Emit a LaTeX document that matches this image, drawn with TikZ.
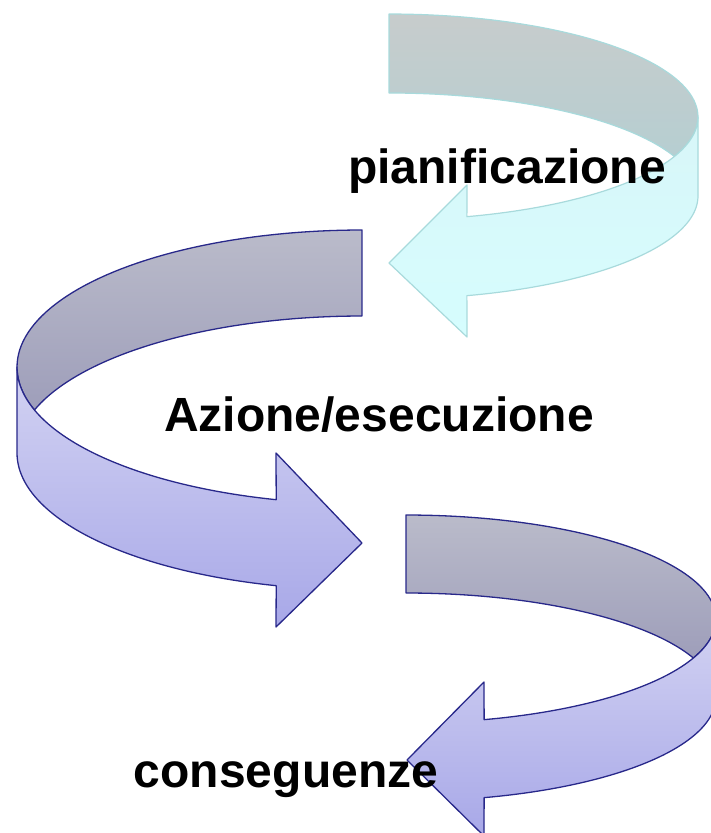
\documentclass[tikz,border=0pt]{standalone}
\usepackage{fontspec}
\setmainfont{Liberation Sans}
\definecolor{cline}{RGB}{168,218,220}
\definecolor{bline}{RGB}{40,40,138}
\definecolor{cbacktop}{RGB}{199,204,204}
\definecolor{cbackbot}{RGB}{182,206,209}
\definecolor{cfronttop}{RGB}{216,246,248}
\definecolor{cfrontbot}{RGB}{214,253,254}
\definecolor{bbacktop}{RGB}{186,187,202}
\definecolor{bbackbot}{RGB}{158,158,186}
\definecolor{bfronttop}{RGB}{210,210,242}
\definecolor{bfrontbot}{RGB}{168,168,232}
\begin{document}
\begin{tikzpicture}[x=1pt,y=-1pt,
  lbl/.style={font=\fontsize{48}{48}\selectfont\bfseries, anchor=base, inner sep=0pt},
  cyanline/.style={draw=cline, line width=1.2pt, line join=round},
  blueline/.style={draw=bline, line width=1.3pt, line join=round},
  cyanback/.style={cyanline, top color=cbacktop, bottom color=cbackbot},
  cyanfront/.style={cyanline, top color=cfronttop, bottom color=cfrontbot},
  blueback/.style={blueline, top color=bbacktop, bottom color=bbackbot},
  bluefront/.style={blueline, top color=bfronttop, bottom color=bfrontbot}]
\useasboundingbox (0,0) rectangle (711,833);
\clip (0,0) rectangle (711,833);
% top arrow
\path[cyanback] plot[domain=270:360, samples=50] ({389+309*cos(\x)}, {117+103*sin(\x)})
  -- plot[domain=0:22.5, samples=12] ({389+309*cos(\x)}, {117+103*sin(\x)})
  -- plot[domain=337.5:270, samples=50] ({389+309*cos(\x)}, {196+103*sin(\x)}) -- cycle;
\path[cyanfront] plot[domain=0:75.4, samples=50] ({389+309*cos(\x)}, {117+103*sin(\x)})
  -- (467,185) coordinate (ta) -- (389,263) coordinate (tt) -- (467,337) coordinate (tb)
  -- plot[domain=75.4:0, samples=50] ({389+309*cos(\x)}, {196+103*sin(\x)}) -- cycle;
% middle arrow
\path[blueback] plot[domain=270:180, samples=50] ({362+345*cos(\x)}, {367+137*sin(\x)})
  -- plot[domain=180:161.7, samples=12] ({362+345*cos(\x)}, {367+137*sin(\x)})
  -- plot[domain=198.3:270, samples=50] ({362+345*cos(\x)}, {453+137*sin(\x)}) -- cycle;
\path[bluefront] plot[domain=180:104.4, samples=50] ({362+345*cos(\x)}, {367+137*sin(\x)})
  -- (276,453) coordinate (ma) -- (362,543) coordinate (mt) -- (276,627) coordinate (mb)
  -- plot[domain=104.4:180, samples=50] ({362+345*cos(\x)}, {453+137*sin(\x)}) -- cycle;
% bottom arrow
\path[blueback] plot[domain=270:360, samples=50] ({406+310*cos(\x)}, {619+104*sin(\x)})
  -- plot[domain=0:22, samples=12] ({406+310*cos(\x)}, {619+104*sin(\x)})
  -- plot[domain=338:270, samples=50] ({406+310*cos(\x)}, {697+104*sin(\x)}) -- cycle;
\path[bluefront] plot[domain=0:75.4, samples=50] ({406+310*cos(\x)}, {619+104*sin(\x)})
  -- (484,682) coordinate (ba) -- (407,760) coordinate (bt) -- (484,836) coordinate (bb)
  -- plot[domain=75.4:0, samples=50] ({406+310*cos(\x)}, {697+104*sin(\x)}) -- cycle;
% labels
\node[lbl] (p) at (507,183) {pianificazione};
\node[lbl] (a) at (379,431) {Azione/esecuzione};
\node[lbl] (c) at (286,787) {conseguenze};
\end{tikzpicture}
\end{document}
